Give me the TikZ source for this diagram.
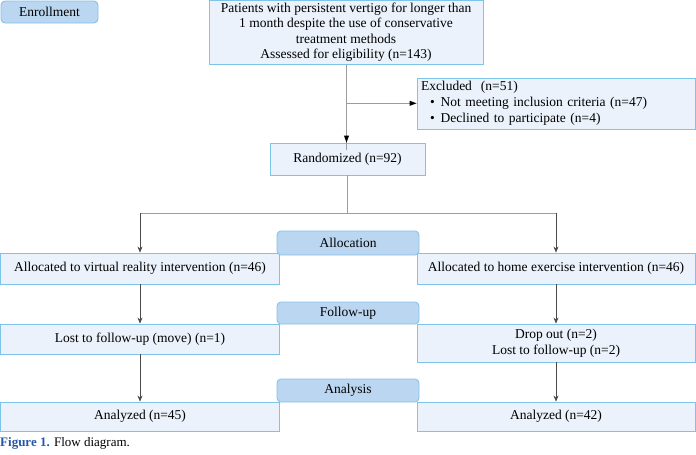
\documentclass[tikz,border=0pt]{standalone}
\usepackage{fontspec}
\setmainfont{Liberation Serif}
\usetikzlibrary{arrows.meta}
\definecolor{boxfill}{HTML}{EBF2FB}
\definecolor{boxline}{HTML}{7EC3E8}
\definecolor{headfill}{HTML}{BBD6F0}
\definecolor{headline}{HTML}{86C2E8}
\definecolor{lightln}{HTML}{9C9C9C}
\definecolor{darkln}{HTML}{4A4A4A}
\definecolor{capblue}{HTML}{2457A6}
\tikzset{
  flowbox/.style={draw=boxline, fill=boxfill, line width=0.9pt, inner sep=0pt, align=center, font=\fontsize{13.5}{15.3}\selectfont},
  headbox/.style={draw=headline, fill=headfill, line width=0.9pt, rounded corners=4pt, inner sep=0pt, align=center, font=\fontsize{13.5}{15.3}\selectfont, minimum width=142pt},
  grayln/.style={draw=lightln, line width=1.3pt},
  thinln/.style={draw=darkln, line width=0.6pt},
  tipa/.style={-{Stealth[length=6pt,width=5pt]}},
}
\begin{document}
\begin{tikzpicture}[x=1pt,y=-1pt]
\useasboundingbox (0,0) rectangle (696,455);
% boxes
\node[headbox, minimum width=97pt, minimum height=22pt] (enroll) at (49.5,12) {Enrollment};
\node[flowbox, minimum width=274pt, minimum height=63.5pt] (top) at (346,32.3)
  {Patients with persistent vertigo for longer than\\1 month despite the use of conservative\\treatment methods\\Assessed for eligibility (n=143)};
\node[flowbox, minimum width=278pt, minimum height=51pt, align=left, text width=270pt, inner xsep=4pt, font=\fontsize{13.5}{16}\selectfont] (excl) at (556,103.5)
  {\raisebox{0pt}[\height][\depth]{}Excluded\ \ (n=51)\\
   \hspace*{9pt}\textbullet\hspace{6pt}Not meeting inclusion criteria (n=47)\\
   \hspace*{9pt}\textbullet\hspace{6pt}Declined to participate (n=4)};
\node[flowbox, minimum width=155pt, minimum height=32pt] (rand) at (347.5,159) {Randomized (n=92)};
\node[flowbox, minimum width=278.5pt, minimum height=31pt] (vr) at (140,268.5) {Allocated to virtual reality intervention (n=46)};
\node[flowbox, minimum width=278pt, minimum height=31pt] (home) at (556,268.5) {Allocated to home exercise intervention (n=46)};
\node[flowbox, minimum width=278.5pt, minimum height=30pt] (lost) at (140,339) {Lost to follow-up (move) (n=1)};
\node[flowbox, minimum width=278pt, minimum height=38pt, font=\fontsize{13.5}{16}\selectfont] (drop) at (556,343) {Drop out (n=2)\\Lost to follow-up (n=2)};
\node[flowbox, minimum width=278.5pt, minimum height=29pt] (an1) at (140,416.5) {Analyzed (n=45)};
\node[flowbox, minimum width=278pt, minimum height=29pt] (an2) at (556,416.5) {Analyzed (n=42)};
\node[headbox, minimum height=24pt] (alloc) at (348,243) {Allocation};
\node[headbox, minimum height=22pt] (follow) at (348,313) {Follow-up};
\node[headbox, minimum height=23pt] (analysis) at (348,390.5) {Analysis};
% connectors
\coordinate (br) at (346.5,103.3);
\coordinate (split) at (347.5,213);
\coordinate (lc) at (140,213);
\coordinate (rc) at (556,213);
\draw[grayln] (top.south -| br) -- (br);
\draw[grayln] (br) -- ([yshift=-7pt]br |- rand.north);
\fill[black] (br |- rand.north) -- ++(-2.6,-7) -- ++(5.2,0) -- cycle;
\draw[grayln] (br) -- ([xshift=-7pt]excl.west |- br);
\fill[black] (excl.west |- br) -- ++(-7,-2.6) -- ++(0,5.2) -- cycle;
\draw[draw=lightln, line width=1pt] (rand.south) -- (split);
\draw[draw=lightln, line width=1pt] (lc) -- (rc);
\draw[thinln, tipa] (lc) -- (vr.north);
\draw[thinln, tipa] (rc) -- (home.north);
\draw[thinln, tipa] (vr.south) -- (lost.north);
\draw[thinln, tipa] (home.south) -- (drop.north);
\draw[thinln, tipa] (lost.south) -- (an1.north);
\draw[thinln, tipa] (drop.south) -- (an2.north);
% caption
\node[anchor=west, inner sep=0pt, font=\fontsize{13}{15}\selectfont] (cap) at (0,443)
  {\textcolor{capblue}{\textbf{Figure 1.}} Flow diagram.};
\end{tikzpicture}
\end{document}
